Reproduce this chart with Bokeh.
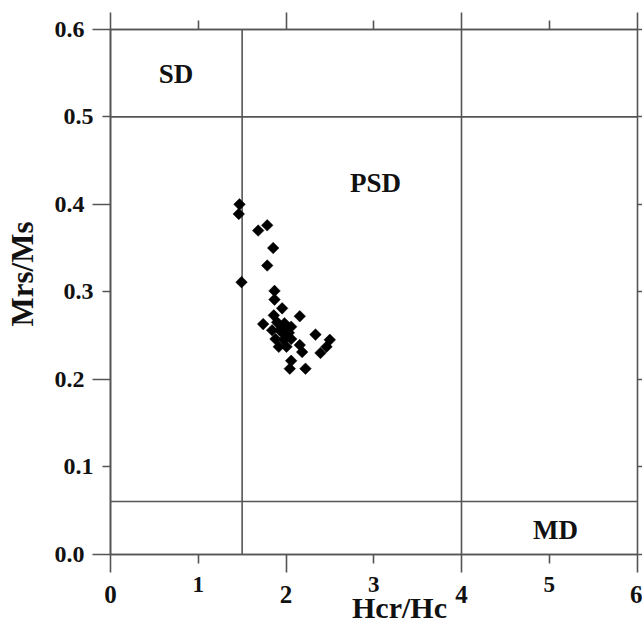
from math import pi
from bokeh.plotting import figure
from bokeh.models import LinearAxis, FixedTicker, Range1d, PrintfTickFormatter
from bokeh.core.properties import value
from bokeh.embed import file_html
from bokeh.resources import INLINE

# ---- data ----
hcr_hc = [1.470, 1.462, 1.683, 1.786, 1.854, 1.786, 1.493, 1.869, 1.869, 1.956,
          1.861, 2.157, 1.740, 1.899, 1.983, 2.059, 1.842, 1.937, 2.032, 1.880,
          1.975, 2.059, 1.918, 2.006, 2.336, 2.499, 2.462, 2.393, 2.157, 2.184,
          2.059, 2.043, 2.222, 1.950, 2.000]
mrs_ms = [0.400, 0.389, 0.370, 0.376, 0.350, 0.330, 0.311, 0.301, 0.291, 0.281,
          0.273, 0.272, 0.263, 0.265, 0.264, 0.260, 0.256, 0.255, 0.253, 0.246,
          0.245, 0.246, 0.237, 0.237, 0.251, 0.245, 0.237, 0.230, 0.239, 0.231,
          0.221, 0.212, 0.212, 0.258, 0.250]

region_names = ["SD", "PSD", "MD"]
region_x = [0.746, 3.02, 5.071]
region_y = [0.549, 0.424, 0.027]

boundary_x = [1.5, 4.0]   # SD/PSD and PSD/MD limits on Hcr/Hc
boundary_y = [0.5, 0.06]  # SD/PSD and PSD/MD limits on Mrs/Ms

x_min, x_max = 0, 6
y_min, y_max = 0.0, 0.6
x_ticks_even = [0, 2, 4, 6]
x_ticks_odd = [1, 3, 5]
y_ticks_even = [0.0, 0.2, 0.4, 0.6]
y_ticks_odd = [0.1, 0.3, 0.5]
y_ticks_all = [0.0, 0.1, 0.2, 0.3, 0.4, 0.5, 0.6]

x_title = "Hcr/Hc"
y_title = "Mrs/Ms"

# ---- layout / style ----
W, H = 642, 622
box_left, box_right, box_top, box_bottom = 110, 636.5, 29, 553.5
kx = (box_right - box_left) / (x_max - x_min)
ky = (box_bottom - box_top) / (y_max - y_min)

LINE = "#555555"
TXT = "#111111"
FONT = "Liberation Serif"

p = figure(width=W, height=H,
           x_range=Range1d(x_min - box_left / kx, x_max + (W - box_right) / kx),
           y_range=Range1d(y_min - (H - box_bottom) / ky, y_max + box_top / ky),
           output_backend="svg", toolbar_location=None,
           x_axis_location=None, y_axis_location=None,
           min_border_left=0, min_border_right=0, min_border_top=0, min_border_bottom=0)
p.outline_line_color = None
p.background_fill_color = "white"
p.border_fill_color = "white"
p.xgrid.visible = False
p.ygrid.visible = False


def make_axis(ticks, loc, bounds, tick_out, standoff=9, font_size="24px",
              show_labels=True, line=True, fmt=None):
    ax = LinearAxis(ticker=FixedTicker(ticks=ticks), fixed_location=loc, bounds=bounds)
    if fmt is not None:
        ax.formatter = PrintfTickFormatter(format=fmt)
    ax.major_tick_out = tick_out
    ax.major_tick_in = 0
    ax.minor_tick_out = 0
    ax.minor_tick_in = 0
    ax.major_tick_line_color = LINE
    ax.major_tick_line_width = 1.6
    ax.axis_line_color = LINE if line else None
    ax.axis_line_width = 1.6
    ax.major_label_standoff = standoff
    ax.major_label_text_font = FONT
    ax.major_label_text_font_style = "bold"
    ax.major_label_text_font_size = font_size
    ax.major_label_text_color = TXT if show_labels else None
    return ax


xb = (x_min, x_max)
yb = (y_min, y_max)

# bottom axes
p.add_layout(make_axis(x_ticks_even, y_min, xb, 18, standoff=14, font_size="25px"), "below")
p.add_layout(make_axis(x_ticks_odd, y_min, xb, 9, standoff=14, font_size="23px"), "below")
xlab = make_axis([], y_min, (3.1, 3.49), 0, line=False)
xlab.axis_label = x_title
xlab.axis_label_standoff = 36
xlab.axis_label_text_font = FONT
xlab.axis_label_text_font_style = "bold"
xlab.axis_label_text_font_size = "30px"
xlab.axis_label_text_color = TXT
p.add_layout(xlab, "below")

# left axes
p.add_layout(make_axis(y_ticks_even, x_min, yb, 18, standoff=8, font_size="24px", fmt="%.1f"), "left")
p.add_layout(make_axis(y_ticks_odd, x_min, yb, 8, standoff=9, font_size="24px", fmt="%.1f"), "left")
ylab = make_axis([], x_min, (0.30, 0.34), 0, line=False)
ylab.axis_label = y_title
ylab.axis_label_standoff = 71
ylab.axis_label_text_font = FONT
ylab.axis_label_text_font_style = "bold"
ylab.axis_label_text_font_size = "31px"
ylab.axis_label_text_color = TXT
p.add_layout(ylab, "left")

# top axes (ticks only)
p.add_layout(make_axis(x_ticks_even, y_max, xb, 17, show_labels=False), "above")
p.add_layout(make_axis(x_ticks_odd, y_max, xb, 9, show_labels=False), "above")

# right axis (ticks only)
p.add_layout(make_axis(y_ticks_all, x_max, yb, 8, show_labels=False), "right")

# region boundaries
p.segment(x0=boundary_x, y0=[y_min] * len(boundary_x), x1=boundary_x, y1=[y_max] * len(boundary_x),
          line_color=LINE, line_width=1.6)
p.segment(x0=[x_min] * len(boundary_y), y0=boundary_y, x1=[x_max] * len(boundary_y), y1=boundary_y,
          line_color=LINE, line_width=1.6)

# data points
p.scatter(hcr_hc, mrs_ms, marker="square", angle=pi / 4, size=8.2,
          fill_color="black", line_color="black", line_width=0.5)

# region labels
p.text(x=region_x, y=region_y, text=region_names,
       text_font=value(FONT), text_font_style="bold", text_font_size="27px",
       text_color=TXT, text_align="center", text_baseline="middle")

open("out.html", "w").write(file_html(p, INLINE))
